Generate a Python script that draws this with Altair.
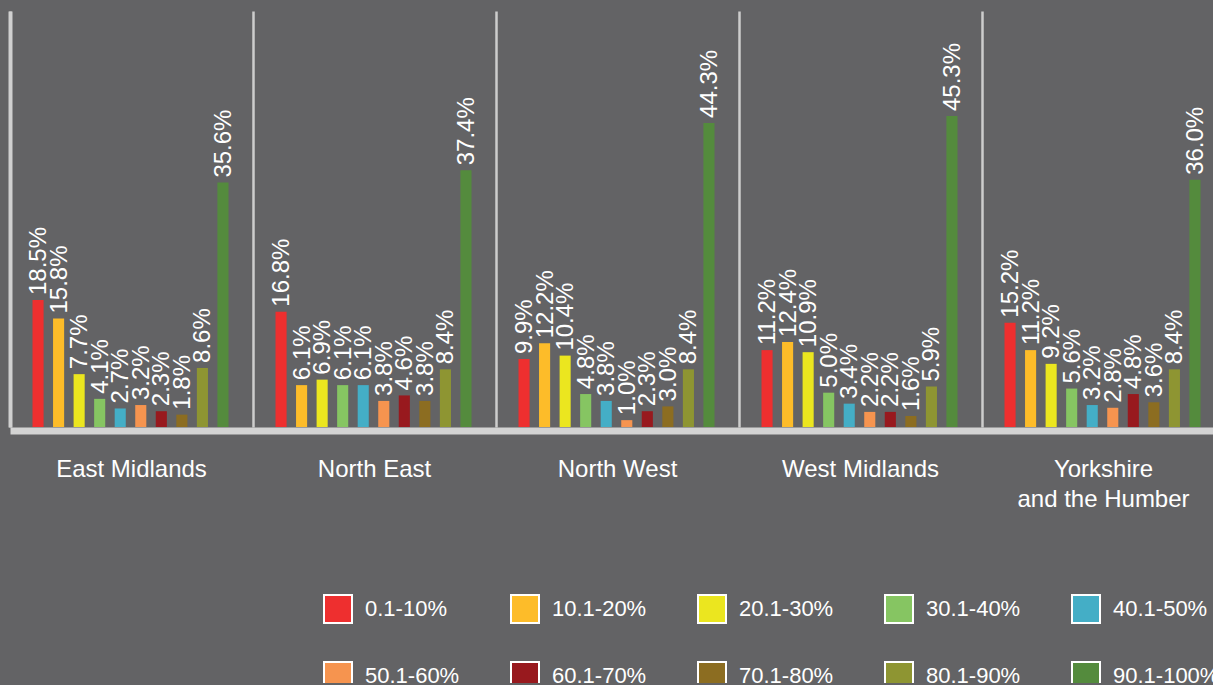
import altair as alt
import pandas as pd

regions = ["East Midlands", "North East", "North West", "West Midlands", "Yorkshire and the Humber"]
categories = ["0.1-10%", "10.1-20%", "20.1-30%", "30.1-40%", "40.1-50%",
              "50.1-60%", "60.1-70%", "70.1-80%", "80.1-90%", "90.1-100%"]
colors = ["#EE2F2F", "#FDBC29", "#EBE61F", "#86C562", "#44AEC6",
          "#F6944F", "#98191E", "#8C6D21", "#8E9532", "#548B3D"]

east_midlands = [18.5, 15.8, 7.7, 4.1, 2.7, 3.2, 2.3, 1.8, 8.6, 35.6]
north_east = [16.8, 6.1, 6.9, 6.1, 6.1, 3.8, 4.6, 3.8, 8.4, 37.4]
north_west = [9.9, 12.2, 10.4, 4.8, 3.8, 1.0, 2.3, 3.0, 8.4, 44.3]
west_midlands = [11.2, 12.4, 10.9, 5.0, 3.4, 2.2, 2.2, 1.6, 5.9, 45.3]
yorkshire = [15.2, 11.2, 9.2, 5.6, 3.2, 2.8, 4.8, 3.6, 8.4, 36.0]

series = [east_midlands, north_east, north_west, west_midlands, yorkshire]
rows = []
for reg, vals in zip(regions, series):
    for cat, v in zip(categories, vals):
        rows.append({"region": reg, "band": cat, "value": v})
df = pd.DataFrame(rows)

FONT = "Liberation Sans"
BG = "#636365"

x = alt.X("region:N", sort=regions, title=None,
          scale=alt.Scale(range=[0, 1215], paddingInner=0, paddingOuter=0),
          axis=alt.Axis(grid=True, bandPosition=0, gridColor="#CDCDCD", gridWidth=2.5,
                        domainColor="#D3D3D3", domainWidth=7, offset=3.5,
                        ticks=False, labelAngle=0, labelColor="white", labelFont=FONT,
                        labelFontSize=24, labelPadding=27, labelLineHeight=30,
                        labelExpr="datum.label == 'Yorkshire and the Humber' ? ['Yorkshire', 'and the Humber'] : datum.label"))
xo = alt.XOffset("band:N", sort=categories,
                 scale=alt.Scale(range=[22.5, 218.5], paddingInner=0.46, paddingOuter=0))
y = alt.Y("value:Q", title=None, scale=alt.Scale(domain=[0, 60.6], nice=False),
          axis=alt.Axis(labels=False, ticks=False, grid=False, domainColor="#D0D0D0",
                        domainWidth=4))
color = alt.Color("band:N", sort=categories,
                  scale=alt.Scale(domain=categories, range=colors),
                  legend=alt.Legend(title=None, orient="none", legendX=313, legendY=583,
                                    columns=5, direction="horizontal", gridAlign="all",
                                    columnPadding=35, rowPadding=31,
                                    symbolType="square", symbolSize=784,
                                    symbolStrokeColor="white", symbolStrokeWidth=2,
                                    symbolOpacity=1,
                                    labelFont=FONT, labelFontSize=22, labelColor="white",
                                    labelOffset=12, labelLimit=200))

base = alt.Chart(df).transform_calculate(
    label="format(datum.value, '.1f') + '%'"
)

bars = base.mark_bar(opacity=1).encode(x=x, xOffset=xo, y=y, color=color)
texts = base.mark_text(angle=270, align="left", baseline="middle", dx=5, dy=1,
                       fontSize=24, font=FONT, color="white").encode(
    x=x, xOffset=xo, y=y, text="label:N")

chart = alt.layer(bars, texts).properties(
    width=1203, height=416,
    autosize=alt.AutoSizeParams(type="none"),
    padding={"left": 2, "top": 3, "right": 0, "bottom": 256},
    background=BG,
).configure_view(stroke=None)

chart.save("out.html", embed_options={"renderer": "svg", "actions": False,
                                      "defaultStyle": "body{background:%s;margin:8px 0 0 8px;}" % BG})
